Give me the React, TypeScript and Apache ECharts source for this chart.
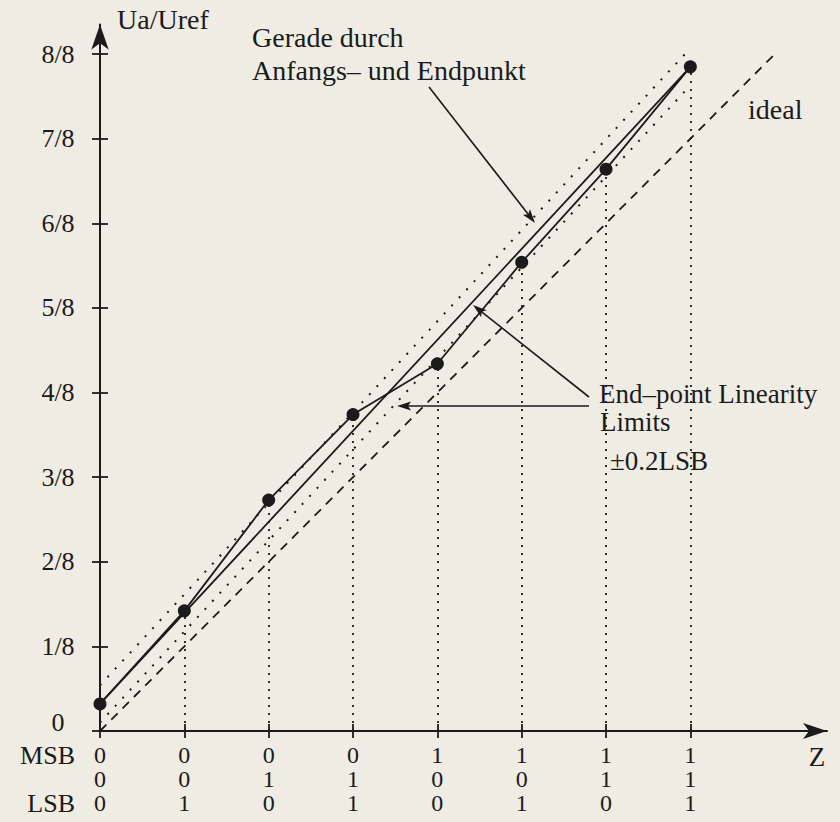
import React, { useEffect, useRef } from 'react';
import * as echarts from 'echarts';

// ---- data (voltages in eighths of Uref) ----
const zValues = [0, 1, 2, 3, 4, 5, 6, 7];
const msbBits = ['0', '0', '0', '0', '1', '1', '1', '1'];
const midBits = ['0', '0', '1', '1', '0', '0', '1', '1'];
const lsbBits = ['0', '1', '0', '1', '0', '1', '0', '1'];
const measured = [0.32, 1.42, 2.73, 3.74, 4.34, 5.54, 6.64, 7.85];
const yTickValues = [0, 1, 2, 3, 4, 5, 6, 7, 8];
const yTickLabels = ['0', '1/8', '2/8', '3/8', '4/8', '5/8', '6/8', '7/8', '8/8'];
const idealLine = [[0, 0], [8, 8]];
const upperLimit = [[0, 0.54], [7, 8.07]];
const lowerLimit = [[0, 0.1], [7, 7.63]];

const INK = '#1b1b1b';
const BG = '#efece3';
const FONT = '"Liberation Serif", "Times New Roman", serif';

function arrow(x1: number, y1: number, x2: number, y2: number) {
  const dx = x2 - x1;
  const dy = y2 - y1;
  const len = Math.hypot(dx, dy);
  const ux = dx / len;
  const uy = dy / len;
  const L = 14;
  const W = 4.5;
  const bx = x2 - ux * L;
  const by = y2 - uy * L;
  return [
    {
      type: 'line',
      shape: { x1, y1, x2: bx + ux * 3, y2: by + uy * 3 },
      style: { stroke: INK, lineWidth: 1.6 },
    },
    {
      type: 'polygon',
      shape: {
        points: [
          [x2, y2],
          [bx - uy * W, by + ux * W],
          [bx + ux * 3, by + uy * 3],
          [bx + uy * W, by - ux * W],
        ],
      },
      style: { fill: INK },
    },
  ];
}

function txt(x: number, y: number, text: string, size = 28, align = 'left') {
  return {
    type: 'text',
    x,
    y,
    style: {
      text,
      fill: INK,
      fontSize: size,
      fontFamily: FONT,
      align,
      textAlign: align,
      verticalAlign: 'middle',
      textVerticalAlign: 'middle',
    },
  };
}

export default function App() {
  const ref = useRef<HTMLDivElement>(null);

  useEffect(() => {
    if (!ref.current) return;
    const chart = echarts.init(ref.current, null, { renderer: 'svg' });

    const X_MAX = 8.62;
    const Y_MAX = 8.35;
    const tickStyle = { color: INK, width: 1.8 };

    const option: any = {
      animation: false,
      backgroundColor: BG,
      grid: { left: 100, right: 13, top: 24.5, bottom: 91, containLabel: false, outerBoundsMode: 'none' },
      xAxis: [
        {
          type: 'value',
          min: 0,
          max: X_MAX,
          position: 'bottom',
          axisLine: {
            show: true,
            onZero: false,
            symbol: ['none', 'arrow'],
            symbolSize: [12, 24],
            lineStyle: { color: INK, width: 2 },
          },
          axisTick: { show: true, customValues: zValues, length: 7, lineStyle: tickStyle },
          axisLabel: {
            show: true,
            customValues: zValues,
            formatter: (v: number) => {
              const i = Math.round(v);
              return `${msbBits[i]}\n${midBits[i]}\n${lsbBits[i]}`;
            },
            color: INK,
            fontFamily: FONT,
            fontSize: 24,
            lineHeight: 24,
            margin: 12,
          },
          splitLine: { show: false },
        },
        {
          type: 'value',
          min: 0,
          max: X_MAX,
          position: 'bottom',
          axisLine: { show: false, onZero: false },
          axisTick: { show: true, inside: true, customValues: zValues, length: 7, lineStyle: tickStyle },
          axisLabel: { show: false },
          splitLine: { show: false },
        },
      ],
      yAxis: [
        {
          type: 'value',
          min: 0,
          max: Y_MAX,
          position: 'left',
          axisLine: {
            show: true,
            onZero: false,
            symbol: ['none', 'arrow'],
            symbolSize: [13, 25],
            lineStyle: { color: INK, width: 2 },
          },
          axisTick: { show: true, customValues: yTickValues, length: 8, lineStyle: tickStyle },
          axisLabel: {
            show: true,
            customValues: yTickValues,
            formatter: (v: number) => {
              const i = Math.round(v);
              return i === 0 ? '{z|0}' : yTickLabels[i];
            },
            rich: {
              z: { fontSize: 26, fontFamily: FONT, color: INK, padding: [0, 0, 18, 0] },
            },
            color: INK,
            fontFamily: FONT,
            fontSize: 26,
            align: 'center',
            margin: 42,
          },
          splitLine: { show: false },
        },
        {
          type: 'value',
          min: 0,
          max: Y_MAX,
          position: 'left',
          axisLine: { show: false, onZero: false },
          axisTick: { show: true, inside: true, customValues: yTickValues, length: 8, lineStyle: tickStyle },
          axisLabel: { show: false },
          splitLine: { show: false },
        },
      ],
      series: [
        {
          name: 'ideal',
          type: 'line',
          data: idealLine,
          showSymbol: false,
          silent: true,
          lineStyle: { color: INK, width: 1.8, type: [9, 7] },
        },
        {
          name: 'upper limit',
          type: 'line',
          data: upperLimit,
          showSymbol: false,
          silent: true,
          lineStyle: { color: INK, width: 2, type: [2, 9] },
        },
        {
          name: 'lower limit',
          type: 'line',
          data: lowerLimit,
          showSymbol: false,
          silent: true,
          lineStyle: { color: INK, width: 2, type: [2, 9] },
        },
        {
          name: 'Gerade durch Anfangs- und Endpunkt',
          type: 'line',
          data: [
            [zValues[0], measured[0]],
            [zValues[zValues.length - 1], measured[measured.length - 1]],
          ],
          showSymbol: false,
          silent: true,
          lineStyle: { color: INK, width: 1.8 },
        },
        {
          name: 'measured',
          type: 'line',
          data: zValues.map((z, i) => [z, measured[i]]),
          symbol: 'circle',
          symbolSize: 13,
          showSymbol: true,
          silent: true,
          itemStyle: { color: INK },
          lineStyle: { color: INK, width: 1.8 },
          markLine: {
            silent: true,
            symbol: 'none',
            label: { show: false },
            lineStyle: { color: INK, width: 1.8, type: [2, 6] },
            data: zValues.slice(1).map((z, k) => [
              { coord: [z, 0] },
              { coord: [z, measured[k + 1]] },
            ]),
          },
        },
      ],
      graphic: [
        txt(117, 19, 'Ua/Uref'),
        txt(252, 37, 'Gerade durch'),
        txt(252, 70, 'Anfangs\u2013 und Endpunkt'),
        ...arrow(429, 87, 535, 223),
        txt(748, 109, 'ideal'),
        txt(599, 394, 'End\u2013point Linearity', 27),
        txt(600, 422, 'Limits', 27),
        txt(610, 461, '\u00b10.2LSB', 27),
        ...arrow(589, 397, 473, 305),
        ...arrow(589, 406, 397, 406),
        txt(817, 757, 'Z', 27, 'center'),
        txt(75, 755, 'MSB', 26, 'right'),
        txt(75, 803, 'LSB', 26, 'right'),
      ],
    };

    chart.setOption(option);
    return () => chart.dispose();
  }, []);

  return (
    <div
      ref={ref}
      style={{ position: 'absolute', left: 0, top: 0, width: 840, height: 822 }}
    />
  );
}
